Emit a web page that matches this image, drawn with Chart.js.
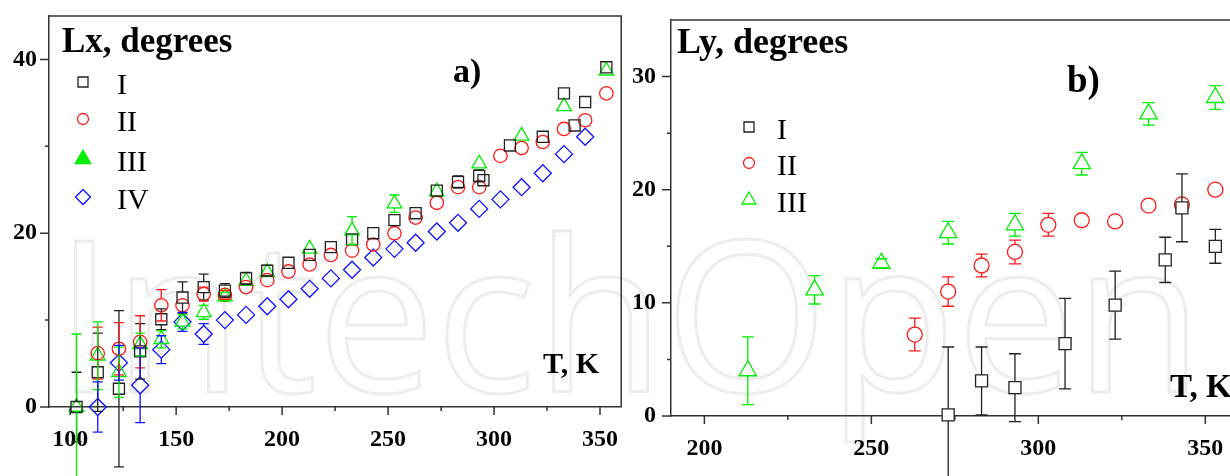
<!DOCTYPE html>
<html>
<head>
<meta charset="utf-8">
<script src="https://cdn.jsdelivr.net/npm/chart.js@4.4.0/dist/chart.umd.min.js"></script>
<style>
  html, body { margin: 0; padding: 0; background: #fff; overflow: hidden; }
  #wrap { position: relative; width: 1230px; height: 476px; overflow: hidden; }
  canvas { position: absolute; top: 0; }
  #wm, #chartA { left: 0; }
  #chartB { left: 625px; }
</style>
</head>
<body>
<div id="wrap">
  <canvas id="wm" width="1230" height="476"></canvas>
  <canvas id="chartA" width="631" height="476"></canvas>
  <canvas id="chartB" width="625" height="476"></canvas>
</div>
<script>
// ---- panel a) Lx, degrees vs T, K ----
const lxT1 = [103,113,123,133,143,153,163,173,183,193,203,213,223,233,243,253,263,273,283,293,295,307.5,323,333,338,343,353];
const lxV1 = [0,4.0,2.1,6.4,10.1,12.6,13.8,13.4,14.8,15.7,16.6,17.5,18.4,19.3,20.0,21.5,22.3,24.9,25.9,26.6,26.1,30.1,31.1,36.1,32.4,35.1,39.1];
const lxE1 = [4,4.5,9,3.2,1.2,1.8,1.5,0.8,0.7,0.6,0,0,0,0,0,0,0,0,0.7,0.7,0,0,0,0,0,0,0];

const lxT2 = [113,123,133,143,153,163,173,183,193,203,213,223,233,243,253,263,273,283,293,303,313,323,333,343,353];
const lxV2 = [6.2,6.7,7.5,11.7,11.7,13.0,12.9,13.8,14.6,15.6,16.4,17.5,18.0,18.7,20.0,21.8,23.5,25.3,25.3,28.9,29.8,30.5,32.0,33.0,36.1];
const lxE2 = [3.0,3.0,3.0,1.8,0,0.8,0.5,0,0,0,0,0,0,0,0,0,0,0,0,0,0,0,0,0,0];

const lxT3 = [103,113,123,133,143,153,163,173,183,193,213,233,253,273,293,313,333,353];
const lxV3 = [0,5.9,4.0,7.2,7.8,9.8,10.9,12.7,14.5,15.5,18.2,20.3,23.4,24.8,28.0,31.2,34.6,38.7];
const lxE3 = [8.4,3.9,2.9,1.3,1.0,0.8,0.8,0.5,0,0,0,1.6,1.0,0,0,0,0,0];

const lxT4 = [113,123,133,143,153,163,173,183,193,203,213,223,233,243,253,263,273,283,293,303,313,323,333,343];
const lxV4 = [0,5.1,2.5,6.6,9.8,8.4,10.0,10.6,11.6,12.4,13.6,14.8,15.8,17.2,18.2,18.9,20.2,21.2,22.8,23.9,25.3,26.9,29.1,31.1];
const lxE4 = [2.9,2.0,4.3,1.6,1.1,1.2,0,0,0,0,0,0,0,0,0,0,0,0,0,0,0,0,0,0];

const xTicksA = [100,125,150,175,200,225,250,275,300,325,350];
const xLabelsA = [100,150,200,250,300,350];
const yTicksA = [0,10,20,30,40];
const yLabelsA = [0,20,40];

// ---- panel b) Ly, degrees vs T, K ----
const lyT1 = [273,283,293,308,323,338,343,353];
const lyV1 = [0.1,3.1,2.5,6.4,9.8,13.8,18.4,15.0];
const lyE1 = [6,3,3,4,3,2,3,1.5];

const lyT2 = [263,273,283,293,303,313,323,333,343,353];
const lyV2 = [7.2,11.0,13.3,14.5,16.9,17.3,17.2,18.6,18.7,20.0];
const lyE2 = [1.45,1.3,1.0,1.05,1.0,0,0,0,0,0];

const lyT3 = [213,233,253,273,293,313,333,353];
const lyV3 = [4.0,11.15,13.5,16.2,16.9,22.3,26.7,28.15];
const lyE3 = [3.0,1.25,0.4,1.0,1.0,1.0,1.0,1.05];

const xTicksB = [200,225,250,275,300,325,350];
const xLabelsB = [200,250,300,350];
const yTicksB = [0,5,10,15,20,25,30];
const yLabelsB = [0,10,20,30];

const seriesNames = ['I', 'II', 'III', 'IV'];

const BLACK = '#222', RED = '#ff1a1a', GREEN = '#00ee00', BLUE = '#1010ff';
const SERIF = '"Liberation Serif", "Times New Roman", serif';

function pts(t, v) { return t.map((x, i) => ({x: x, y: v[i]})); }

// distance from the point centre to the marker edge, up and down
function gaps(style, r) {
  if (style === 'rect') return [r * Math.SQRT1_2, r * Math.SQRT1_2];
  if (style === 'triangle') return [r, r / 2];
  return [r, r];
}

function marker(ctx, style, x, y, r, stroke, fill) {
  ctx.beginPath();
  if (style === 'rect') ctx.rect(x - r, y - r, 2 * r, 2 * r);
  else if (style === 'circle') ctx.arc(x, y, r, 0, Math.PI * 2);
  else if (style === 'triangle') {
    ctx.moveTo(x, y - r);
    ctx.lineTo(x + r * 0.866, y + r * 0.5);
    ctx.lineTo(x - r * 0.866, y + r * 0.5);
    ctx.closePath();
  } else {
    ctx.moveTo(x, y - r); ctx.lineTo(x + r, y); ctx.lineTo(x, y + r); ctx.lineTo(x - r, y);
    ctx.closePath();
  }
  if (fill) { ctx.fillStyle = fill; ctx.fill(); }
  ctx.strokeStyle = stroke;
  ctx.lineWidth = 1.3;
  ctx.stroke();
}

// vertical error bars with caps, not crossing the own marker
const errorBars = {
  id: 'errorBars',
  afterDatasetsDraw(chart) {
    const ctx = chart.ctx;
    const ys = chart.scales.y;
    chart.data.datasets.forEach((ds, i) => {
      const meta = chart.getDatasetMeta(i);
      const g = gaps(ds.pointStyle, ds.pointRadius);
      const cap = ds.capHalf;
      ctx.save();
      ctx.strokeStyle = ds.borderColor;
      ctx.lineWidth = 1.3;
      meta.data.forEach((p, j) => {
        const e = ds.yErr[j];
        if (!e) return;
        const v = ds.data[j].y;
        const top = ys.getPixelForValue(v + e);
        const bot = ys.getPixelForValue(v - e);
        ctx.beginPath();
        if (p.y - g[0] > top) { ctx.moveTo(p.x, top); ctx.lineTo(p.x, p.y - g[0]); }
        if (p.y + g[1] < bot) { ctx.moveTo(p.x, p.y + g[1]); ctx.lineTo(p.x, bot); }
        ctx.moveTo(p.x - cap, top); ctx.lineTo(p.x + cap, top);
        ctx.moveTo(p.x - cap, bot); ctx.lineTo(p.x + cap, bot);
        ctx.stroke();
      });
      ctx.restore();
    });
  }
};

// frame, tick marks, titles and legend
const deco = {
  id: 'deco',
  afterDraw(chart, args, opts) {
    const ctx = chart.ctx;
    const a = chart.chartArea;
    const xs = chart.scales.x, ys = chart.scales.y;
    ctx.save();
    ctx.strokeStyle = '#333';
    ctx.lineWidth = 1.5;
    ctx.beginPath();
    ctx.moveTo(a.left, a.top); ctx.lineTo(a.right, a.top); ctx.lineTo(a.right, a.bottom);
    xs.ticks.forEach(t => {
      const px = xs.getPixelForValue(t.value);
      ctx.moveTo(px, a.bottom); ctx.lineTo(px, a.bottom + (t.label ? 8 : 4));
    });
    ys.ticks.forEach(t => {
      const py = ys.getPixelForValue(t.value);
      ctx.moveTo(a.left - (t.label ? 9 : 4), py); ctx.lineTo(a.left, py);
    });
    ctx.stroke();

    ctx.fillStyle = '#000';
    ctx.textBaseline = 'alphabetic';
    opts.texts.forEach(tx => {
      ctx.font = tx.font;
      ctx.fillText(tx.text, tx.x, tx.y);
    });

    const lg = opts.legend;
    chart.data.datasets.forEach((ds, i) => {
      const y = lg.y[i];
      marker(ctx, ds.pointStyle, lg.x, y, lg.r[i], ds.borderColor, ds.legendFill);
      ctx.fillStyle = '#000';
      ctx.font = lg.font;
      ctx.fillText(ds.label, lg.textX, y + 12);
    });
    ctx.restore();
  }
};

function dataset(label, t, v, e, style, r, color, fill, legendFill, capHalf) {
  return {
    label: label, data: pts(t, v), yErr: e,
    pointStyle: style, pointRadius: r, pointHoverRadius: r,
    borderColor: color, pointBorderColor: color,
    backgroundColor: fill, pointBackgroundColor: fill,
    pointBorderWidth: 1.3, showLine: false, clip: false,
    legendFill: legendFill, capHalf: capHalf
  };
}

function axes(xMin, xMax, xTicks, xLabels, yMax, yTicks, yLabels, yWidth, xHeight, yPad, xPad) {
  const tickFont = {family: SERIF, size: 24, weight: 'bold'};
  return {
    x: {
      type: 'linear', min: xMin, max: xMax,
      afterBuildTicks: s => { s.ticks = xTicks.map(v => ({value: v})); },
      afterFit: s => { s.height = xHeight; s.paddingLeft = 0; s.paddingRight = 0; },
      grid: {display: false, drawTicks: false},
      border: {display: true, color: '#333', width: 1.5},
      ticks: {
        autoSkip: false, maxRotation: 0, padding: xPad, color: '#000', font: tickFont,
        callback: v => xLabels.includes(v) ? String(v) : ''
      }
    },
    y: {
      type: 'linear', min: 0, max: yMax,
      afterBuildTicks: s => { s.ticks = yTicks.map(v => ({value: v})); },
      afterFit: s => { s.width = yWidth; s.paddingTop = 0; s.paddingBottom = 0; },
      grid: {display: false, drawTicks: false},
      border: {display: true, color: '#333', width: 1.5},
      ticks: {
        autoSkip: false, padding: yPad, color: '#000', font: tickFont,
        callback: v => yLabels.includes(v) ? String(v) : ''
      }
    }
  };
}

const none = 'rgba(0,0,0,0)';

new Chart(document.getElementById('chartA'), {
  type: 'scatter',
  data: {
    datasets: [
      dataset(seriesNames[0], lxT1, lxV1, lxE1, 'rect', 7.8, BLACK, none, null, 5),
      dataset(seriesNames[1], lxT2, lxV2, lxE2, 'circle', 6.7, RED, none, null, 5),
      dataset(seriesNames[2], lxT3, lxV3, lxE3, 'triangle', 8.5, GREEN, none, GREEN, 5),
      dataset(seriesNames[3], lxT4, lxV4, lxE4, 'rectRot', 8.5, BLUE, none, null, 5)
    ]
  },
  options: {
    responsive: false, animation: false, devicePixelRatio: 1,
    layout: {padding: {top: 16, right: 4, left: 0, bottom: 0}},
    scales: axes(90, 360, xTicksA, xLabelsA, 45, yTicksA, yLabelsA, 49, 69, 12, 18),
    plugins: {
      legend: {display: false}, tooltip: {enabled: false},
      deco: {
        texts: [
          {text: 'Lx, degrees', x: 62, y: 52, font: 'bold 35px ' + SERIF},
          {text: 'a)', x: 453, y: 82, font: 'bold 34px ' + SERIF},
          {text: 'T, K', x: 543, y: 373, font: 'bold 30px ' + SERIF}
        ],
        legend: {x: 83, textX: 117, y: [82, 119, 159, 197], r: [5, 5.5, 9, 7.5], font: '30px ' + SERIF}
      }
    }
  },
  plugins: [errorBars, deco]
});

new Chart(document.getElementById('chartB'), {
  type: 'scatter',
  data: {
    datasets: [
      dataset(seriesNames[0], lyT1, lyV1, lyE1, 'rect', 8.5, BLACK, '#fff', null, 6),
      dataset(seriesNames[1], lyT2, lyV2, lyE2, 'circle', 7.5, RED, '#fff', null, 6),
      dataset(seriesNames[2], lyT3, lyV3, lyE3, 'triangle', 10, GREEN, '#fff', null, 6)
    ]
  },
  options: {
    responsive: false, animation: false, devicePixelRatio: 1,
    layout: {padding: {top: 20, right: 10, left: 0, bottom: 0}},
    scales: axes(190, 360, xTicksB, xLabelsB, 35, yTicksB, yLabelsB, 46, 60, 15, 18),
    plugins: {
      legend: {display: false}, tooltip: {enabled: false},
      deco: {
        texts: [
          {text: 'Ly, degrees', x: 52, y: 53, font: 'bold 36px ' + SERIF},
          {text: 'b)', x: 442, y: 92, font: 'bold 37px ' + SERIF},
          {text: 'T, K', x: 545, y: 397, font: 'bold 33px ' + SERIF}
        ],
        legend: {x: 124, textX: 152, y: [127, 163, 200], r: [5, 5.5, 8], font: '30px ' + SERIF}
      }
    }
  },
  plugins: [errorBars, deco]
});

// faint publisher watermark behind both panels
const wm = document.getElementById('wm').getContext('2d');
wm.font = '210px "Open Sans", sans-serif';
wm.strokeStyle = '#ededed';
wm.lineWidth = 3;
wm.strokeText('IntechOpen', 55, 392);
</script>
</body>
</html>
